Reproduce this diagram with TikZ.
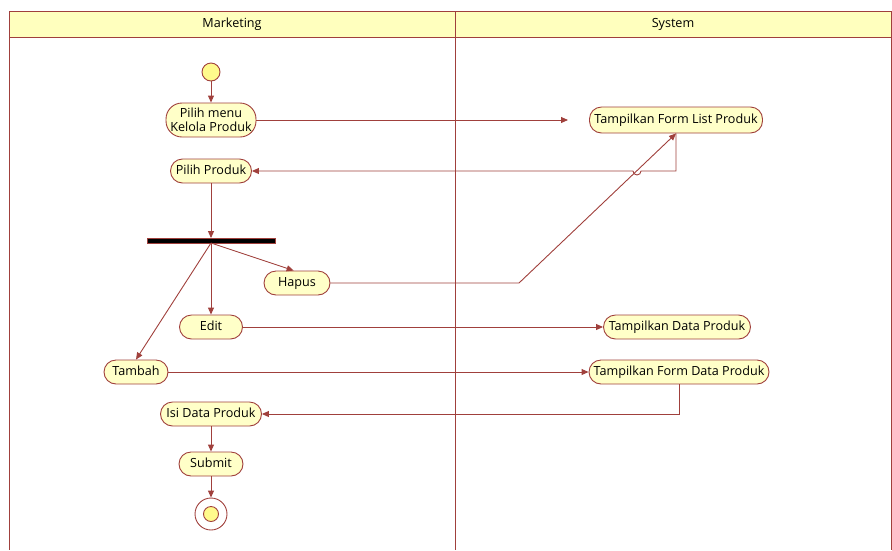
\documentclass[tikz,border=0pt]{standalone}
\usepackage{fontspec}
\setmainfont{Open Sans}
\usepackage{xcolor}
\usepackage{tikz}
\usetikzlibrary{positioning, arrows.meta}

\definecolor{umlred}{RGB}{160,64,60}
\definecolor{umlfill}{RGB}{255,255,200}
\definecolor{lanefill}{RGB}{255,255,190}
\definecolor{dotfill}{RGB}{255,250,140}

\begin{document}
\begin{tikzpicture}[x=1pt, y=-1pt, line width=0.9pt,
    every node/.style={font=\fontsize{12.6}{14.5}\selectfont, inner sep=0pt},
    one/.style={text height=8.5pt, text depth=1pt},
    act/.style={rectangle, rounded corners=12pt, draw=umlred, fill=umlfill, minimum height=24pt, align=center},
    flow/.style={draw=umlred, rounded corners=0pt, -{Triangle[length=7pt, width=6pt]}}]
    \useasboundingbox (0,0) rectangle (892,550);
    % swimlanes
    \draw[umlred, fill=lanefill] (9,11) rectangle (892,37);
    \draw[umlred] (9,11) -- (9,550) (455,11) -- (455,550) (891.5,11) -- (891.5,550);
    \node[one] (mkt) at (232,24) {Marketing};
    \node[one] (sys) at (673,24) {System};

    % Marketing
    \node[circle, draw=umlred, fill=dotfill, minimum size=18pt] (start) at (211,72) {};
    \node[act, rounded corners=16pt, minimum height=34pt, minimum width=90pt] (menu) at (211,120) {Pilih menu\\Kelola Produk};
    \node[act, one, minimum width=81pt] (pilih) at (211,171) {Pilih Produk};
    \node[draw=umlred, fill=black, minimum width=128pt, minimum height=5pt] (fork) at (211,241) {};
    \node[act, one, minimum width=66pt] (hapus) at (297,283) {Hapus};
    \node[act, one, minimum width=63pt] (edit) at (211,327) {Edit};
    \node[act, one, minimum width=64pt] (tambah) at (136,372) {Tambah};
    \node[act, one, minimum width=101pt] (isi) at (211,414) {Isi Data Produk};
    \node[act, one, minimum width=64pt] (submit) at (211,464) {Submit};
    \node[circle, draw=umlred, minimum size=32pt] (end) at (211,514) {};
    \node[circle, draw=umlred, fill=dotfill, minimum size=15pt] (endin) at (end) {};

    % System
    \node[act, one, minimum width=173pt, minimum height=26pt] (tflp) at (676,120) {Tampilkan Form List Produk};
    \node[act, one, minimum width=147pt] (tdp) at (677,327) {Tampilkan Data Produk};
    \node[act, one, minimum width=180pt] (tfdp) at (679,372) {Tampilkan Form Data Produk};

    \coordinate (menuend) at (568,120);
    \coordinate (bend) at (519,283);
    \coordinate (forkc) at (211,243);

    % connectors
    \draw[flow] (start) -- (menu);
    \draw[flow] (menu) -- (menuend);
    \draw[flow] (tflp.south) |- (641,171) arc (0:180:4) -- (pilih.east);
    \draw[flow] (pilih) -- (fork);
    \draw[flow] (forkc) -- (hapus.105);
    \draw[flow] (forkc) -- (edit);
    \draw[flow] (forkc) -- (tambah.north);
    \draw[flow] (hapus) -- (bend) -- (tflp.south);
    \draw[flow] (edit) -- (tdp);
    \draw[flow] (tambah) -- (tfdp);
    \draw[flow] (tfdp.south) |- (isi.east);
    \draw[flow] (isi) -- (submit);
    \draw[flow] (submit) -- (end);
\end{tikzpicture}
\end{document}
